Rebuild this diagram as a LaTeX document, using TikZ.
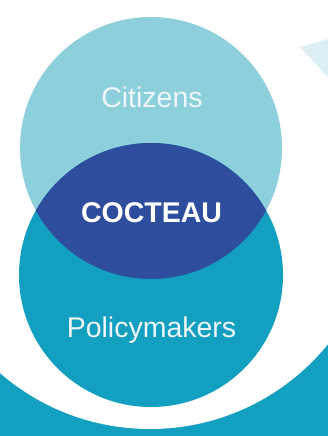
\documentclass[tikz,border=0pt]{standalone}
\usepackage{fontspec}
\setmainfont{Liberation Sans}
\definecolor{citz}{HTML}{8DCFDA}
\definecolor{poli}{HTML}{139FC0}
\definecolor{lens}{HTML}{2F4D9D}
\definecolor{tri}{HTML}{DDEFF5}
\definecolor{txtlight}{HTML}{EEF7FA}
\begin{document}
\begin{tikzpicture}[x=1pt,y=-1pt,
  lbl/.style={anchor=base,inner sep=0pt,font=\fontsize{28.5}{30}\selectfont},
  lblb/.style={lbl,font=\fontsize{28.5}{30}\selectfont\bfseries}]
\useasboundingbox (0,0) rectangle (328,436);
% background
\fill[white] (0,0) rectangle (328,436);
\fill[poli] (0,250) rectangle (328,436);
\fill[white] (150,200) circle (229pt);
% light triangle top right
\fill[tri] (300,47) -- (328,39) -- (328,77) -- cycle;
% venn circles
\coordinate (ctop) at (151,148);
\coordinate (cbot) at (151,275);
\fill[citz] (ctop) circle (131pt);
\fill[poli] (cbot) circle (132pt);
\begin{scope}
  \clip (ctop) circle (131pt);
  \fill[lens] (cbot) circle (132pt);
\end{scope}
% labels
\node[lbl,text=txtlight] (citizens) at (152,107) {Citizens};
\node[lblb,text=white] (cocteau) at (151.5,222) {COCTEAU};
\node[lbl,text=txtlight] (policy) at (151.5,337) {Policymakers};
\end{tikzpicture}
\end{document}
